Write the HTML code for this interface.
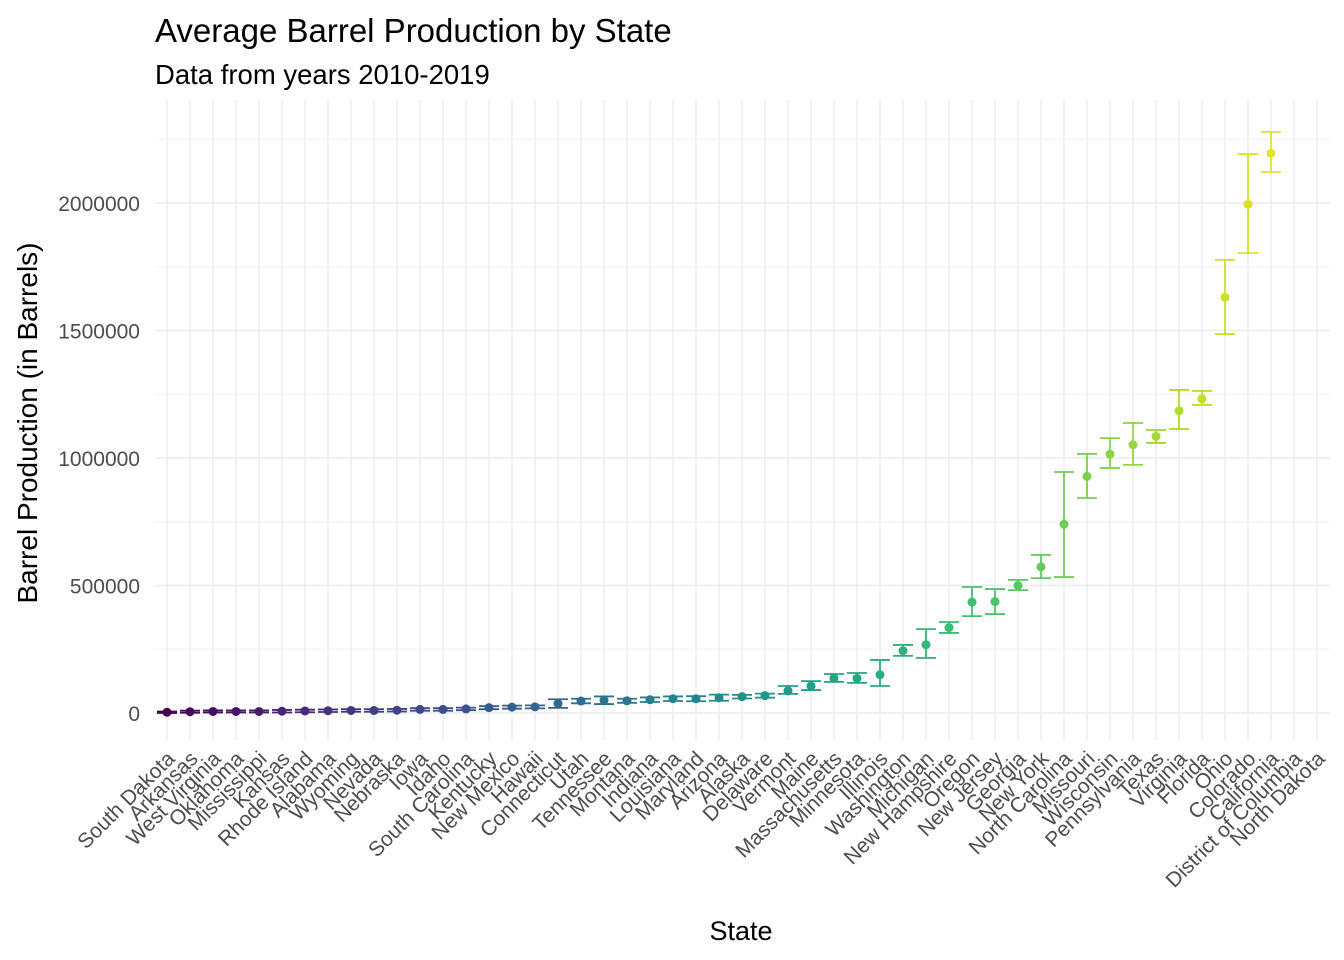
<!DOCTYPE html>
<html><head><meta charset="utf-8"><style>
html,body{margin:0;padding:0;background:#fff;}
svg{display:block;font-family:"Liberation Sans",Arial,sans-serif;}
</style></head><body>
<svg id="chart" width="1344" height="960">
<text x="155" y="42" font-size="33" fill="#000">Average Barrel Production by State</text>
<text x="155" y="84" font-size="27.5" fill="#000">Data from years 2010-2019</text>
<text x="741" y="940" font-size="27" text-anchor="middle" fill="#000">State</text>
<text transform="translate(37,423) rotate(-90)" font-size="28" text-anchor="middle" fill="#000">Barrel Production (in Barrels)</text>
<g id="grid"></g>
<g id="marks"></g>
<g id="xlabels"></g>
<g id="ylabels"></g>
</svg>
<script>
const states = ["South Dakota","Arkansas","West Virginia","Oklahoma","Mississippi","Kansas","Rhode Island","Alabama","Wyoming","Nevada","Nebraska","Iowa","Idaho","South Carolina","Kentucky","New Mexico","Hawaii","Connecticut","Utah","Tennessee","Montana","Indiana","Louisiana","Maryland","Arizona","Alaska","Delaware","Vermont","Maine","Massachusetts","Minnesota","Illinois","Washington","Michigan","New Hampshire","Oregon","New Jersey","Georgia","New York","North Carolina","Missouri","Wisconsin","Pennsylvania","Texas","Virginia","Florida","Ohio","Colorado","California","District of Columbia","North Dakota"];
const means = [3000,5000,6000,6000,6000,7000,8000,9000,10000,10000,11000,14000,14000,16000,21000,23000,24000,37000,47000,50000,48000,52000,56000,56000,60000,64000,68000,87000,106000,136000,136000,150000,244000,268000,335000,435000,437000,500000,573000,740000,928000,1015000,1052000,1085000,1185000,1232000,1630000,1995000,2195000,null,null];
const lows = [0,1000,2000,2000,2000,2000,3000,4000,5000,5000,6000,9000,9000,11000,15000,17000,18000,20000,38000,35000,40000,43000,47000,46000,48000,57000,60000,75000,90000,122000,118000,106000,224000,216000,314000,380000,388000,482000,529000,533000,843000,961000,973000,1059000,1114000,1208000,1486000,1804000,2122000,null,null];
const highs = [6000,9000,10000,10000,10000,12000,13000,14000,15000,15000,16000,19000,19000,21000,27000,29000,30000,54000,56000,65000,56000,61000,65000,66000,72000,71000,76000,106000,125000,153000,157000,208000,267000,329000,357000,494000,486000,522000,620000,945000,1016000,1078000,1137000,1110000,1267000,1263000,1777000,2192000,2279000,null,null];
const yTicks = [0,500000,1000000,1500000,2000000];
const yTickLabels = ["0","500000","1000000","1500000","2000000"];

const NS="http://www.w3.org/2000/svg";
const L=155,R=1330,T=100,B=740;
const x0=167,dx=23;
function xs(i){return x0+dx*i;}
function ys(v){return 713-v*(127.5/500000);}
const stops=["#440154","#482475","#414487","#355f8d","#2a788e","#21918c","#22a884","#44bf70","#7ad151","#bddf26","#fde725"];
function hex(h){return [1,3,5].map(k=>parseInt(h.substr(k,2),16));}
function viridis(t){t=Math.max(0,Math.min(1,t));const p=t*10,i=Math.min(9,Math.floor(p)),f=p-i;const a=hex(stops[i]),b=hex(stops[i+1]);return "rgb("+a.map((c,k)=>Math.round(c+(b[k]-c)*f)).join(",")+")";}
function el(tag,attrs,parent){const e=document.createElementNS(NS,tag);for(const k in attrs)e.setAttribute(k,attrs[k]);parent.appendChild(e);return e;}
const grid=document.getElementById('grid'),marks=document.getElementById('marks'),xl=document.getElementById('xlabels'),yl=document.getElementById('ylabels');
for(let k=0;k<yTicks.length;k++){
  const v=yTicks[k]+250000; if(ys(v)<T) continue;
  const g=el('line',{x1:L,x2:R,y1:ys(v),y2:ys(v),stroke:'#f0f0f0','stroke-width':1},grid);
  
  
}
for(let k=0;k<yTicks.length;k++){
  const g=el('line',{x1:L,x2:R,y1:ys(yTicks[k]),y2:ys(yTicks[k]),stroke:'#ebebeb','stroke-width':1.4},grid);
  
  
  const t=el('text',{x:140,y:ys(yTicks[k])+8,'font-size':21,'text-anchor':'end',fill:'#4d4d4d'},yl);
  t.textContent=yTickLabels[k];
  
  
}
for(let i=0;i<states.length;i++){
  const g=el('line',{x1:xs(i),x2:xs(i),y1:T,y2:B,stroke:'#ebebeb','stroke-width':1.4},grid);
  
  
  const t=el('text',{transform:'translate('+(xs(i)+9)+',760) rotate(-45)','font-size':21,'text-anchor':'end',fill:'#4d4d4d'},xl);
  t.textContent=states[i];
  
  
  if(means[i]==null) continue;
  const c=viridis(i/50);
  const grp=el('g',{},marks);
  
  
  const x=xs(i),yl_=ys(lows[i]),yh=ys(highs[i]),hw=10;
  el('line',{x1:x,x2:x,y1:yh,y2:yl_,stroke:c,'stroke-width':1.8},grp);
  el('line',{x1:x-hw,x2:x+hw,y1:yh,y2:yh,stroke:c,'stroke-width':1.8},grp);
  el('line',{x1:x-hw,x2:x+hw,y1:yl_,y2:yl_,stroke:c,'stroke-width':1.8},grp);
  el('circle',{cx:x,cy:ys(means[i]),r:4.5,fill:c},grp);
}
</script>
</body></html>
